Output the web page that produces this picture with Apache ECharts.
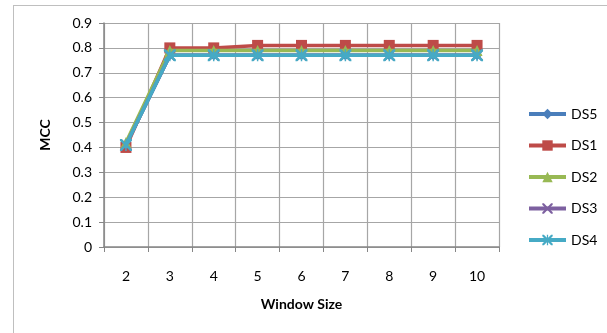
<!DOCTYPE html>
<html><head><meta charset="utf-8">
<script src="https://cdn.jsdelivr.net/npm/echarts@6/dist/echarts.min.js"></script>
<style>html,body{margin:0;padding:0;background:#fff}#c{width:607px;height:333px;position:relative}
#frame{position:absolute;left:13px;top:5px;width:620px;height:360px;border:1px solid #BFBFBF;pointer-events:none}</style>
</head><body><div id="c"></div>
<script>
const categories = ['2','3','4','5','6','7','8','9','10'];
const seriesNames = ['DS5','DS1','DS2','DS3','DS4'];
const ds5 = [0.41,0.77,0.77,0.77,0.77,0.77,0.77,0.77,0.77];
const ds1 = [0.40,0.80,0.80,0.81,0.81,0.81,0.81,0.81,0.81];
const ds2 = [0.42,0.79,0.79,0.79,0.79,0.79,0.79,0.79,0.79];
const ds3 = [0.41,0.77,0.77,0.77,0.77,0.77,0.77,0.77,0.77];
const ds4 = [0.41,0.77,0.77,0.77,0.77,0.77,0.77,0.77,0.77];
const xTitle = 'Window Size';
const yTitle = 'MCC';

const colors = ['#4A7EBB','#BE4B48','#98B954','#7D60A0','#46AAC5'];
const xPath = 'path://M0,0 L1.5,0 L5,3.5 L8.5,0 L10,0 L10,1.5 L6.5,5 L10,8.5 L10,10 L8.5,10 L5,6.5 L1.5,10 L0,10 L0,8.5 L3.5,5 L0,1.5 Z';
const starPath = 'path://M0,0 L1.5,0 L4.4,2.9 L4.4,0 L5.6,0 L5.6,2.9 L8.5,0 L10,0 L10,1.5 L6.5,5 L10,8.5 L10,10 L8.5,10 L5.6,7.1 L5.6,10 L4.4,10 L4.4,7.1 L1.5,10 L0,10 L0,8.5 L3.5,5 L0,1.5 Z';
const symbols = ['diamond','rect','triangle',xPath,starPath];
const sizes = [10,11,11,11,12];
const datas = [ds5,ds1,ds2,ds3,ds4];
const font = 'Lato';

const chart = echarts.init(document.getElementById('c'));
chart.setOption({
  animation:false,
  textStyle:{fontFamily:font},
  grid:{left:104,right:108,top:23,bottom:86},
  legend:{
    orient:'vertical', left:522, top:102, itemWidth:37, itemHeight:13, itemGap:17.5,
    textStyle:{fontFamily:font,fontSize:14,color:'#000'},
    lineStyle:{width:4},
    data:seriesNames
  },
  xAxis:{
    type:'category', data:categories, boundaryGap:true,
    name:xTitle, nameLocation:'middle', nameGap:50,
    nameTextStyle:{fontFamily:font,fontSize:14,fontWeight:'bold',color:'#000'},
    axisLine:{lineStyle:{color:'#868686',width:1.5}},
    axisTick:{show:true,length:5,lineStyle:{color:'#868686'},interval:0},
    axisLabel:{color:'#000',fontSize:14,margin:22,fontFamily:font},
    splitLine:{show:true,interval:0,lineStyle:{color:'#A6A6A6',width:1.2}}
  },
  yAxis:{
    type:'value', min:0, max:0.9, interval:0.1,
    name:yTitle, nameLocation:'middle', nameGap:52, nameRotate:90,
    nameTextStyle:{fontFamily:font,fontSize:14,fontWeight:'bold',color:'#000'},
    axisLine:{show:true,lineStyle:{color:'#868686',width:1.5}},
    axisTick:{show:true,length:5,inside:false,lineStyle:{color:'#868686'}},
    axisLabel:{color:'#000',fontSize:14,margin:12,fontFamily:font,formatter:v=>String(Math.round(v*10)/10)},
    splitLine:{show:true,lineStyle:{color:'#A6A6A6',width:1.2}}
  },
  series:seriesNames.map((n,i)=>({
    name:n, type:'line', data:datas[i], symbol:symbols[i], symbolSize:sizes[i],
    showAllSymbol:true, z:2+i,
    lineStyle:{color:colors[i],width:3.5},
    itemStyle:{color:colors[i]}
  }))
});
</script>
<div id="frame"></div>
</body></html>
